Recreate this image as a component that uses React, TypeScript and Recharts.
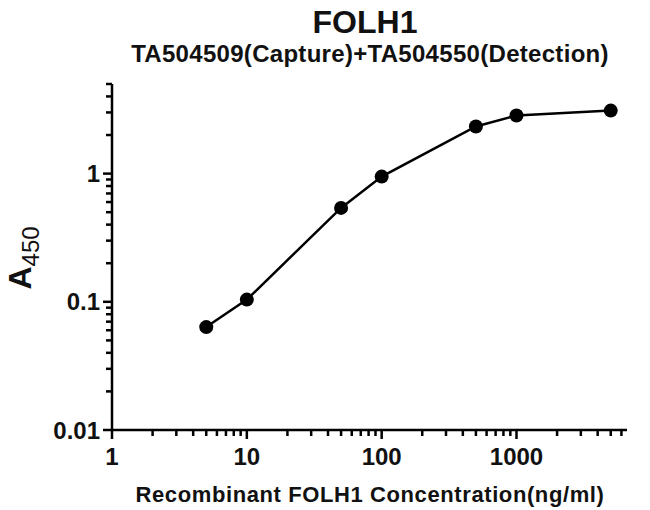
import { LineChart, Line, XAxis, YAxis } from 'recharts';

const concentrations = [5, 10, 50, 100, 500, 1000, 5000];
const absorbance = [0.0635, 0.104, 0.54, 0.948, 2.33, 2.84, 3.1];

const xMajorTicks = [1, 10, 100, 1000];
const xMinorTicks = [
  2, 3, 4, 5, 6, 7, 8, 9,
  20, 30, 40, 50, 60, 70, 80, 90,
  200, 300, 400, 500, 600, 700, 800, 900,
  2000, 3000, 4000, 5000, 6000,
];
const yMajorTicks = [0.01, 0.1, 1];
const yMinorTicks = [
  0.02, 0.03, 0.04, 0.05, 0.06, 0.07, 0.08, 0.09,
  0.2, 0.3, 0.4, 0.5, 0.6, 0.7, 0.8, 0.9,
  2, 3, 4, 5,
];

const FONT = "'Liberation Sans', Arial, Helvetica, sans-serif";

const data = concentrations.map((c, i) => ({ conc: c, a450: absorbance[i] }));

function XTick(props: any) {
  const { x, y, payload } = props;
  const major = xMajorTicks.includes(payload.value);
  return (
    <g>
      <line x1={x} y1={y} x2={x} y2={y + (major ? 9 : 6)} stroke="#000" strokeWidth={2.5} />
      {major && (
        <text x={x} y={y + 35} textAnchor="middle" fontFamily={FONT} fontWeight="bold" fontSize={24} fill="#111">
          {payload.value}
        </text>
      )}
    </g>
  );
}

function YTick(props: any) {
  const { x, y, payload } = props;
  const major = yMajorTicks.includes(payload.value);
  return (
    <g>
      <line x1={x - (major ? 9 : 6)} y1={y} x2={x} y2={y} stroke="#000" strokeWidth={2.5} />
      {major && (
        <text x={x - 12} y={y} dy="0.36em" textAnchor="end" fontFamily={FONT} fontWeight="bold" fontSize={24} fill="#111">
          {payload.value}
        </text>
      )}
    </g>
  );
}

export default function App() {
  return (
    <div style={{ position: 'absolute', left: 0, top: 0, width: 650, height: 510, background: '#fff' }}>
      <LineChart width={650} height={510} data={data} margin={{ top: 84, right: 23, bottom: 20, left: 32 }}>
        <XAxis
          dataKey="conc"
          type="number"
          scale="log"
          domain={[1, 6600]}
          allowDataOverflow
          ticks={[...xMajorTicks, ...xMinorTicks]}
          interval={0}
          tickSize={0}
          tickMargin={0}
          tickLine={false}
          tick={(p: any) => <XTick {...p} />}
          axisLine={{ stroke: '#000', strokeWidth: 2.5 }}
          height={60}
        />
        <YAxis
          type="number"
          scale="log"
          domain={[0.01, 5]}
          allowDataOverflow
          ticks={[...yMajorTicks, ...yMinorTicks]}
          interval={0}
          tickSize={0}
          tickMargin={0}
          tickLine={false}
          tick={(p: any) => <YTick {...p} />}
          axisLine={{ stroke: '#000', strokeWidth: 2.5 }}
          width={80}
        />
        <Line
          type="linear"
          dataKey="a450"
          stroke="#000"
          strokeWidth={2.5}
          dot={{ r: 7, fill: '#000', stroke: '#000', strokeWidth: 0 }}
          isAnimationActive={false}
        />
      </LineChart>
      <svg width={650} height={510} style={{ position: 'absolute', left: 0, top: 0, pointerEvents: 'none' }}>
        <text x={365} y={33} textAnchor="middle" fontFamily={FONT} fontWeight="bold" fontSize={32} fill="#111">
          FOLH1
        </text>
        <text x={370} y={62} textAnchor="middle" fontFamily={FONT} fontWeight="bold" fontSize={24} fill="#111" letterSpacing={0.3}>
          TA504509(Capture)+TA504550(Detection)
        </text>
        <text x={370} y={502} textAnchor="middle" fontFamily={FONT} fontWeight="bold" fontSize={22} fill="#111" letterSpacing={0.6}>
          Recombinant FOLH1 Concentration(ng/ml)
        </text>
        <text transform="translate(31,258) rotate(-90)" textAnchor="middle" fontFamily={FONT} fill="#111">
          <tspan fontSize={32} fontWeight="bold">A</tspan>
          <tspan fontSize={24} dy={8}>450</tspan>
        </text>
      </svg>
    </div>
  );
}
